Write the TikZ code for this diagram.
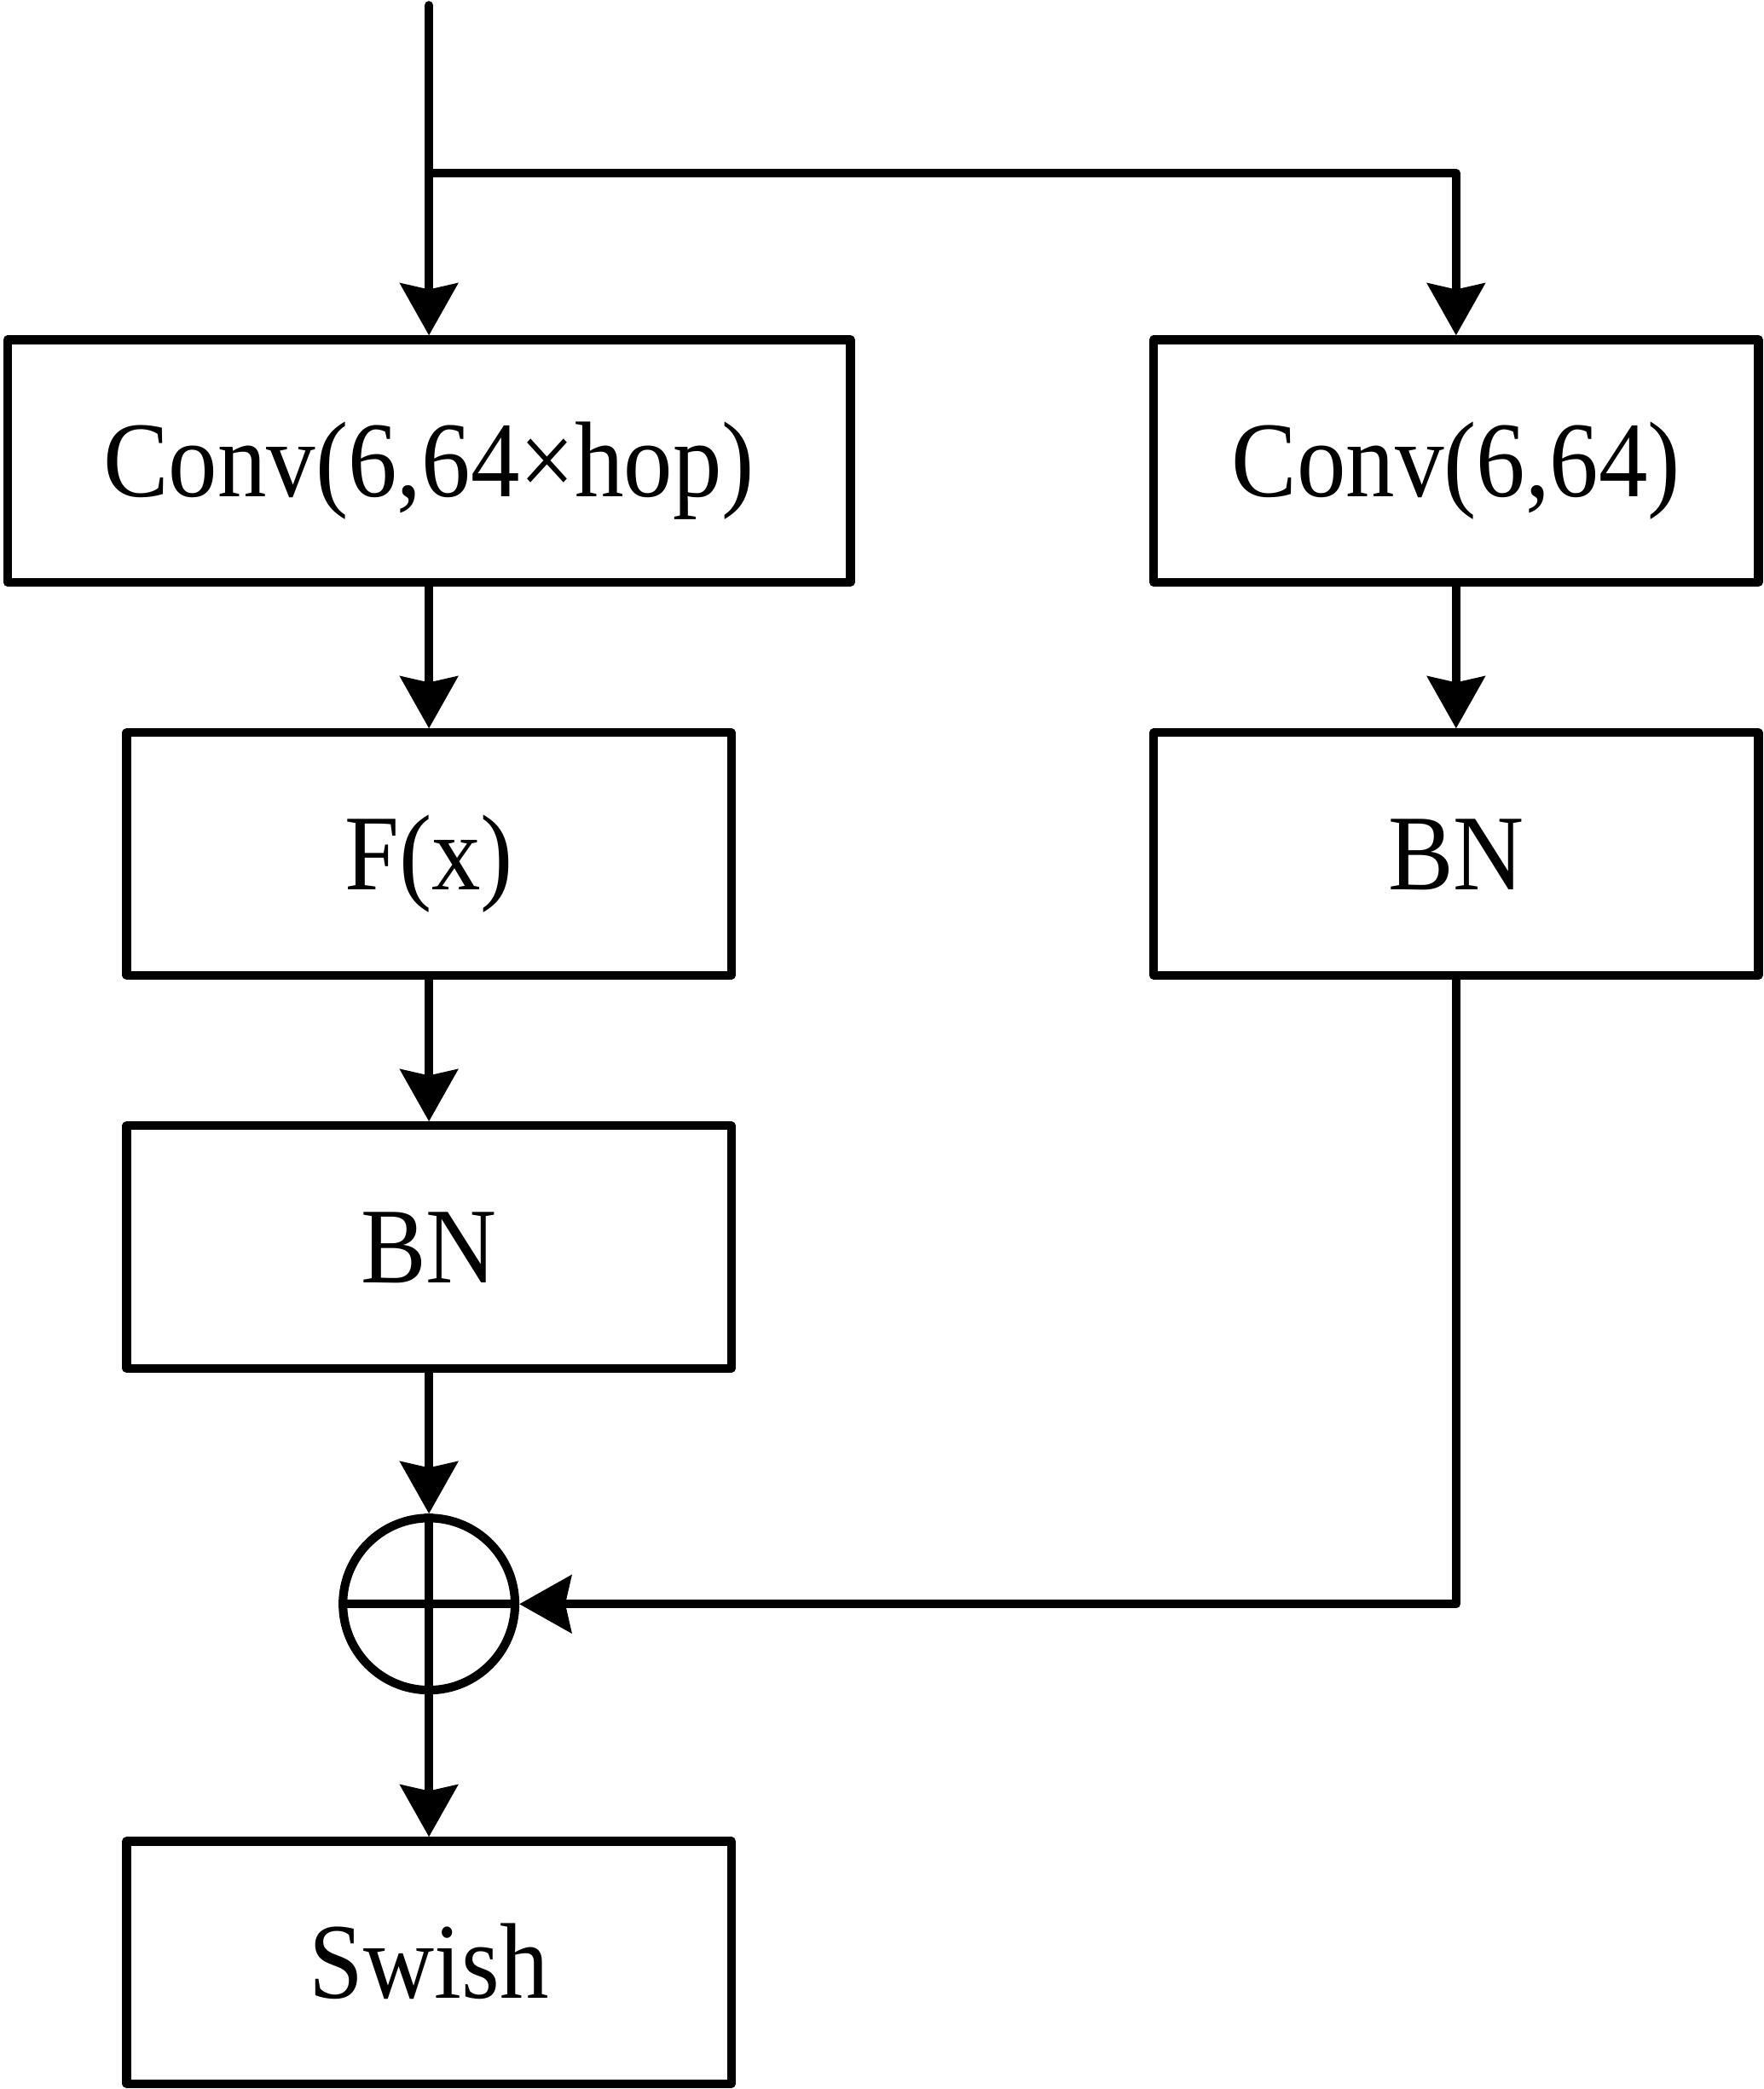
\documentclass[tikz,border=0pt]{standalone}
\usepackage{fontspec}
\setmainfont{Liberation Serif}[FakeStretch=0.91]
\usetikzlibrary{arrows.meta}

\begin{document}
\begin{tikzpicture}[x=0.02cm, y=-0.02cm, line width=3.7pt, line join=round,
    block/.style={draw, rectangle, inner sep=0pt, minimum width=9.08cm, minimum height=3.64cm,
        font=\fontsize{46}{50}\selectfont, text height=30.5pt, text depth=0pt},
    arr/.style={-{Stealth[length=0.78cm, width=0.86cm, inset=0.09cm]}}]
    \useasboundingbox (0,0) rectangle (1324,1568);
    \coordinate (in) at (322,4); \coordinate (split) at (322,130);
    \node[block, minimum width=12.66cm] (convmain) at (322,346) {Conv(6,64×hop)};
    \node[block] (convres) at (1093,346) {Conv(6,64)};
    \node[block] (fx) at (322,641) {F(x)};
    \node[block] (bnres) at (1093,641) {BN};
    \node[block] (bnmain) at (322,936) {BN};
    \node[draw, circle, inner sep=0pt, minimum size=2.584cm] (add) at (322,1204) {};
    \node[block] (swish) at (322,1473) {Swish};
    \draw (add.north) -- (add.south) (add.west) -- (add.east);
    \draw[arr, line cap=round] (in) -- (convmain);
    \draw[arr] (split) -| (convres);
    \draw[arr] (convmain) -- (fx);
    \draw[arr] (fx) -- (bnmain);
    \draw[arr] (bnmain) -- (add);
    \draw[arr] (add) -- (swish);
    \draw[arr] (convres) -- (bnres);
    \draw[arr] (bnres) |- (add);
\end{tikzpicture}
\end{document}
